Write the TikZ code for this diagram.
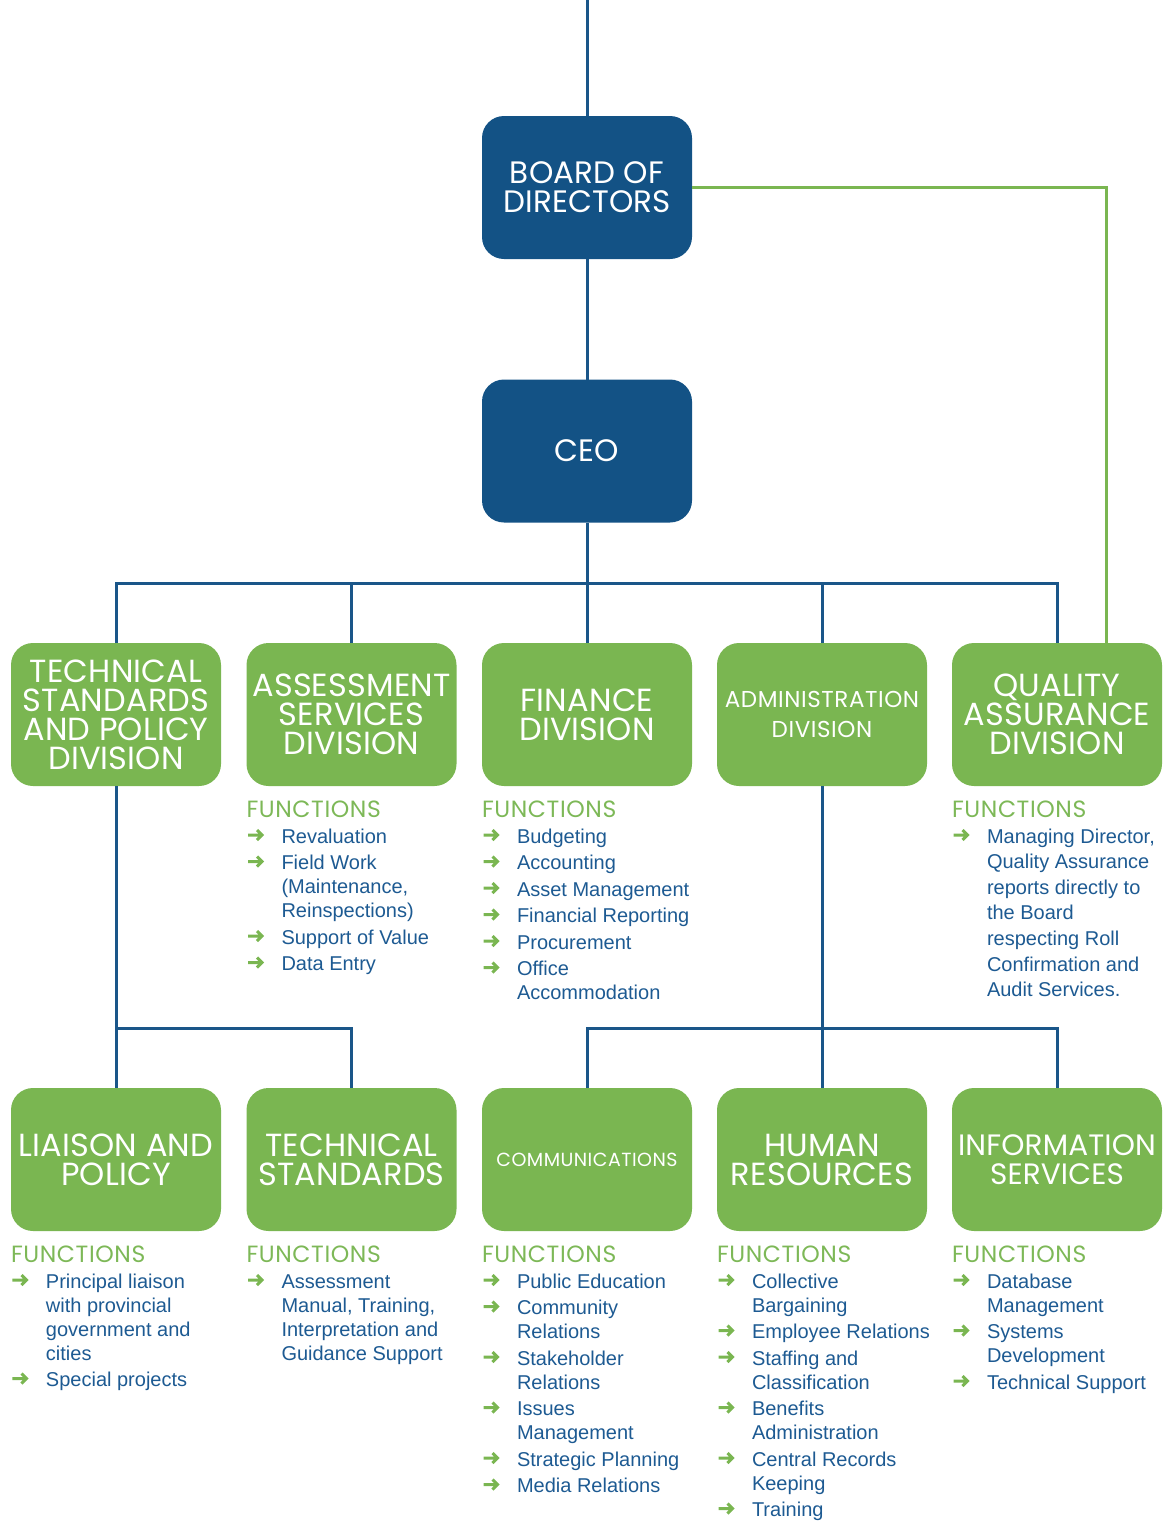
\documentclass[tikz,border=0pt]{standalone}
\usepackage{fontspec}
\usepackage{array}
\setmainfont{Liberation Sans}
\newfontfamily\titlefont{Poppins}[LetterSpace=0.5]
\newfontfamily\widetitle{Poppins}[LetterSpace=2.5]

\definecolor{navy}{HTML}{135285}
\definecolor{linkblue}{HTML}{1A5689}
\definecolor{leaf}{HTML}{7AB651}
\definecolor{inkblue}{HTML}{1D5A92}
\definecolor{headgreen}{HTML}{7DB857}

% green bullet arrow for function items (box filled in the document body)
\newsavebox\arrbox
\newcommand\farr{\usebox\arrbox}
% list of functions: arrow column + text column
\newcommand\flist[1]{\begin{tabular}[t]{@{}p{35pt}@{}l@{}}#1\end{tabular}}

\tikzset{
  orgbox/.style={rectangle, rounded corners=22pt, minimum width=210pt,
    minimum height=143pt, inner sep=0pt, outer sep=0pt, align=center,
    text=white, font=\titlefont\fontsize{32}{29}\selectfont},
  topbox/.style={orgbox, fill=navy, font=\titlefont\fontsize{31}{29}\selectfont},
  divbox/.style={orgbox, fill=leaf},
  fhead/.style={anchor=base west, inner sep=0pt, outer sep=0pt,
    text=headgreen, font=\widetitle\fontsize{23.5}{23.5}\selectfont},
  fitems/.style={anchor=base west, inner sep=0pt, outer sep=0pt,
    text=inkblue, font=\fontsize{20}{24}\selectfont},
  bline/.style={draw=linkblue, line width=3pt},
  gline/.style={draw=leaf, line width=3pt},
}

\begin{document}
\sbox\arrbox{\begin{pgfpicture}%
  \pgfpathrectangle{\pgfpointorigin}{\pgfpoint{17pt}{0pt}}\pgfusepath{}%
  \pgfsetlinewidth{3pt}\pgfsetcolor{leaf}\pgfsetmiterjoin
  \pgfpathmoveto{\pgfpoint{1pt}{8pt}}\pgfpathlineto{\pgfpoint{15pt}{8pt}}%
  \pgfpathmoveto{\pgfpoint{10pt}{3pt}}\pgfpathlineto{\pgfpoint{15pt}{8pt}}%
  \pgfpathlineto{\pgfpoint{10pt}{13pt}}%
  \pgfusepath{stroke}%
  \pgfsetbaseline{0pt}%
\end{pgfpicture}}%
\begin{tikzpicture}[x=1pt, y=-1pt]
\useasboundingbox (0,0) rectangle (1165,1521);

% --- executive level
\node[topbox] (board) at (587,187.5) {BOARD OF\\DIRECTORS};
\node[topbox] (ceo) at (587,451) {CEO};

% --- divisions
\node[divbox] (tsp) at (116,714.5) {TECHNICAL\\STANDARDS\\AND POLICY\\DIVISION};
\node[divbox] (ass) at (351.5,714.5) {ASSESSMENT\\SERVICES\\DIVISION};
\node[divbox] (fin) at (587,714.5) {FINANCE\\DIVISION};
\node[divbox, font=\widetitle\fontsize{23}{30}\selectfont] (adm) at (822,714.5) {ADMINISTRATION\\DIVISION};
\node[divbox] (qa) at (1057,714.5) {QUALITY\\ASSURANCE\\DIVISION};

% --- units
\node[divbox] (lp) at (116,1159.5) {LIAISON AND\\POLICY};
\node[divbox] (ts) at (351.5,1159.5) {TECHNICAL\\STANDARDS};
\node[divbox, font=\widetitle\fontsize{19}{19}\selectfont] (comm) at (587,1159.5) {COMMUNICATIONS};
\node[divbox] (hr) at (822,1159.5) {HUMAN\\RESOURCES};
\node[divbox, font=\titlefont\fontsize{29.5}{29}\selectfont] (is) at (1057,1159.5) {INFORMATION\\SERVICES};

% --- connectors
\coordinate (top) at (587,0);
\coordinate (bus) at (587,583);
\coordinate (busb) at (587,1028);

\draw[bline] (top) -- (board.north);
\draw[bline] (board.south) -- (ceo.north);
\draw[bline] (ceo.south) -- (bus);
\draw[bline] (tsp.north) |- (bus);
\draw[bline] (qa.north) |- (bus);
\draw[bline] (ass.north) -- (ass.north |- bus);
\draw[bline] (fin.north) -- (bus);
\draw[bline] (adm.north) -- (adm.north |- bus);
\draw[gline] (board.east) -| ([xshift=49pt]qa.north);

\draw[bline] (tsp.south) -- (lp.north);
\draw[bline] (ts.north) |- (tsp.south |- busb);
\draw[bline] (adm.south) -- (hr.north);
\draw[bline] (comm.north) |- (is.north |- busb) -- (is.north);

% --- functions, divisions
\node[fhead] (ass-h) at ([yshift=-31pt]ass.south west) {FUNCTIONS};
\node[fitems] (ass-f) at ([yshift=-26pt]ass-h.base west) {\flist{
  \farr & Revaluation\\[2.5pt]
  \farr & Field Work\\
        & (Maintenance,\\
        & Reinspections)\\[2.5pt]
  \farr & Support of Value\\[2.5pt]
  \farr & Data Entry}};

\node[fhead] (fin-h) at ([yshift=-31pt]fin.south west) {FUNCTIONS};
\node[fitems] (fin-f) at ([yshift=-26pt]fin-h.base west) {\flist{
  \farr & Budgeting\\[2.5pt]
  \farr & Accounting\\[2.5pt]
  \farr & Asset Management\\[2.5pt]
  \farr & Financial Reporting\\[2.5pt]
  \farr & Procurement\\[2.5pt]
  \farr & Office\\
        & Accommodation}};

\node[fhead] (qa-h) at ([yshift=-31pt]qa.south west) {FUNCTIONS};
\node[fitems, font=\fontsize{20}{25.6}\selectfont] (qa-f) at ([yshift=-26pt]qa-h.base west) {\flist{
  \farr & Managing Director,\\
        & Quality Assurance\\
        & reports directly to\\
        & the Board\\
        & respecting Roll\\
        & Confirmation and\\
        & Audit Services.}};

% --- functions, units
\node[fhead] (lp-h) at ([yshift=-31pt]lp.south west) {FUNCTIONS};
\node[fitems] (lp-f) at ([yshift=-26pt]lp-h.base west) {\flist{
  \farr & Principal liaison\\
        & with provincial\\
        & government and\\
        & cities\\[2.5pt]
  \farr & Special projects}};

\node[fhead] (ts-h) at ([yshift=-31pt]ts.south west) {FUNCTIONS};
\node[fitems] (ts-f) at ([yshift=-26pt]ts-h.base west) {\flist{
  \farr & Assessment\\
        & Manual, Training,\\
        & Interpretation and\\
        & Guidance Support}};

\node[fhead] (comm-h) at ([yshift=-31pt]comm.south west) {FUNCTIONS};
\node[fitems] (comm-f) at ([yshift=-26pt]comm-h.base west) {\flist{
  \farr & Public Education\\[2.5pt]
  \farr & Community\\
        & Relations\\[2.5pt]
  \farr & Stakeholder\\
        & Relations\\[2.5pt]
  \farr & Issues\\
        & Management\\[2.5pt]
  \farr & Strategic Planning\\[2.5pt]
  \farr & Media Relations}};

\node[fhead] (hr-h) at ([yshift=-31pt]hr.south west) {FUNCTIONS};
\node[fitems] (hr-f) at ([yshift=-26pt]hr-h.base west) {\flist{
  \farr & Collective\\
        & Bargaining\\[2.5pt]
  \farr & Employee Relations\\[2.5pt]
  \farr & Staffing and\\
        & Classification\\[2.5pt]
  \farr & Benefits\\
        & Administration\\[2.5pt]
  \farr & Central Records\\
        & Keeping\\[2.5pt]
  \farr & Training}};

\node[fhead] (is-h) at ([yshift=-31pt]is.south west) {FUNCTIONS};
\node[fitems] (is-f) at ([yshift=-26pt]is-h.base west) {\flist{
  \farr & Database\\
        & Management\\[2.5pt]
  \farr & Systems\\
        & Development\\[2.5pt]
  \farr & Technical Support}};
\end{tikzpicture}
\end{document}
